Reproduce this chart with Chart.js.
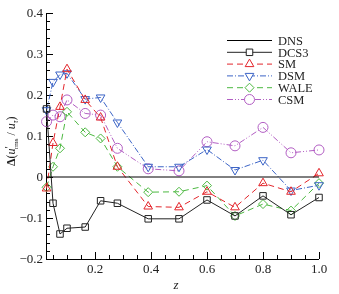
<!DOCTYPE html>
<html>
<head>
<meta charset="utf-8">
<script src="https://cdn.jsdelivr.net/npm/chart.js@4.4.1/dist/chart.umd.min.js"></script>
<style>
  html, body { margin: 0; padding: 0; background: #fff; }
  #wrap { width: 339px; height: 294px; }
</style>
</head>
<body>
<div id="wrap"><canvas id="lineChart"></canvas></div>
<script>
// z positions shared by all LES runs
const zValues = [0.027, 0.05, 0.075, 0.1, 0.165, 0.22, 0.28, 0.39, 0.5, 0.6, 0.7, 0.8, 0.9, 1.0];
const dnsZ = [0.025, 1.0];
const dnsValues = [0, 0];
const dcs3Values = [0.166, -0.064, -0.139, -0.125, -0.122, -0.058, -0.064, -0.102, -0.102, -0.056, -0.095, -0.046, -0.092, -0.05];
const smValues = [-0.028, 0.083, 0.171, 0.263, 0.188, 0.145, 0.025, -0.072, -0.074, -0.036, -0.074, -0.015, -0.036, 0.009];
const dsmValues = [0.163, 0.232, 0.25, 0.253, 0.19, 0.194, 0.133, 0.025, 0.025, 0.067, 0.017, 0.041, -0.033, -0.02];
const waleValues = [-0.025, 0.025, 0.07, 0.159, 0.109, 0.094, 0.025, -0.037, -0.036, -0.021, -0.095, -0.066, -0.082, -0.015];
const csmValues = [0.135, 0.151, 0.147, 0.188, 0.155, 0.151, 0.07, 0.02, 0.015, 0.086, 0.076, 0.121, 0.059, 0.066];

const xTickLabels = ['0.2', '0.4', '0.6', '0.8', '1.0'];
const yTickLabels = ['0.4', '0.3', '0.2', '0.1', '0', '\u22120.1', '\u22120.2'];

const serif = '"Liberation Serif", "DejaVu Serif", serif';

function toPoints(xs, ys) {
    return ys.map((y, i) => ({ x: xs[i], y: y }));
}

function series(label, xs, ys, color, dash, style, radius, rotation) {
    return {
        label: label,
        data: toPoints(xs, ys),
        borderColor: color,
        backgroundColor: 'rgba(0,0,0,0)',
        borderWidth: 1,
        borderDash: dash,
        pointStyle: style,
        pointRadius: radius,
        pointRotation: rotation || 0,
        pointBorderColor: color,
        pointBackgroundColor: 'rgba(0,0,0,0)',
        pointBorderWidth: 1,
        tension: 0,
        clip: false
    };
}

const datasets = [
    series('DNS', dnsZ, dnsValues, '#000000', [], false, 0),
    series('DCS3', zValues, dcs3Values, '#222222', [], 'rect', 4.6),
    series('SM', zValues, smValues, '#e3262c', [6, 4], 'triangle', 5),
    series('DSM', zValues, dsmValues, '#3c64c6', [6, 2, 1, 2], 'triangle', 5, 180),
    series('WALE', zValues, waleValues, '#4cb840', [6, 4], 'rectRot', 4.5),
    series('CSM', zValues, csmValues, '#b25ec3', [6, 2, 1, 2, 1, 2], 'circle', 5)
];

// axes, ticks, labels and titles drawn from the chart's scales
const framePlugin = {
    id: 'frame',
    beforeDatasetsDraw(chart) {
        const ctx = chart.ctx;
        const xs = chart.scales.x, ys = chart.scales.y;
        const a = chart.chartArea;
        ctx.save();
        ctx.strokeStyle = '#000';
        ctx.lineWidth = 1;
        ctx.beginPath();
        ctx.moveTo(a.left + 0.5, a.top);
        ctx.lineTo(a.left + 0.5, a.bottom + 0.5);
        ctx.lineTo(a.right, a.bottom + 0.5);
        ctx.stroke();

        // y ticks
        ctx.beginPath();
        for (let i = 0; i <= 30; i++) {
            const v = -0.2 + i * 0.02;
            const py = Math.round(ys.getPixelForValue(v)) + 0.5;
            const len = (i % 5 === 0) ? 7 : 4;
            ctx.moveTo(a.left, py);
            ctx.lineTo(a.left + len, py);
        }
        // x ticks
        for (let i = 1; i <= 20; i++) {
            const v = i * 0.05;
            const px = Math.round(xs.getPixelForValue(v)) + 0.5;
            const len = (i % 4 === 0) ? 7 : 4;
            ctx.moveTo(px, a.bottom);
            ctx.lineTo(px, a.bottom - len);
        }
        ctx.stroke();

        ctx.fillStyle = '#222';
        ctx.font = '13px ' + serif;
        ctx.textAlign = 'right';
        ctx.textBaseline = 'middle';
        yTickLabels.forEach((t, i) => {
            const v = 0.4 - i * 0.1;
            ctx.fillText(t, a.left - 3, ys.getPixelForValue(v) + 1);
        });
        ctx.textAlign = 'center';
        ctx.textBaseline = 'top';
        xTickLabels.forEach((t, i) => {
            const v = 0.2 * (i + 1);
            ctx.fillText(t, xs.getPixelForValue(v), a.bottom + 4);
        });

        // x title
        ctx.font = 'italic 13px ' + serif;
        ctx.textBaseline = 'alphabetic';
        ctx.fillText('z', 176, 289);

        // y title, rotated
        ctx.translate(15, 166);
        ctx.rotate(-Math.PI / 2);
        ctx.textAlign = 'left';
        let x = 0;
        const put = (txt, font, dy) => {
            ctx.font = font;
            ctx.fillText(txt, x, dy || 0);
            x += ctx.measureText(txt).width;
        };
        put('\u0394', 'bold 12px ' + serif);
        put('(', '12px ' + serif);
        put('u', 'italic 12px ' + serif);
        put('\u2032', '11px ' + serif, -3);
        x -= 3;
        put('rms', '7px ' + serif, 3);
        put(' / ', '12px ' + serif);
        put('u', 'italic 12px ' + serif);
        put('\u03c4', 'italic 8px ' + serif, 3);
        put(')', '12px ' + serif);
        ctx.restore();
    },
    afterDraw(chart) {
        const ctx = chart.ctx;
        ctx.save();
        chart.data.datasets.forEach((ds, i) => {
            const y = 40.5 + i * 11.8;
            ctx.strokeStyle = ds.borderColor;
            ctx.lineWidth = 1;
            ctx.setLineDash(ds.borderDash);
            ctx.beginPath();
            ctx.moveTo(227, y);
            ctx.lineTo(272, y);
            ctx.stroke();
            ctx.setLineDash([]);
            if (ds.pointStyle) {
                ctx.fillStyle = '#ffffff';
                Chart.helpers.drawPoint(ctx, {
                    pointStyle: ds.pointStyle,
                    radius: ds.pointRadius,
                    rotation: ds.pointRotation,
                    borderWidth: 1
                }, 249.5, y);
            }
            ctx.fillStyle = '#222';
            ctx.font = '12.5px ' + serif;
            ctx.textAlign = 'left';
            ctx.textBaseline = 'middle';
            ctx.fillText(ds.label, 278, y + 1);
        });
        ctx.restore();
    }
};

const ctx = document.getElementById('lineChart');

new Chart(ctx, {
    type: 'line',
    data: { datasets: datasets },
    options: {
        responsive: true,
        maintainAspectRatio: false,
        animation: false,
        layout: { padding: { left: 46, right: 20, top: 13, bottom: 35 } },
        plugins: { legend: { display: false }, tooltip: { enabled: false } },
        scales: {
            x: { type: 'linear', min: 0.025, max: 1.0, display: false },
            y: { type: 'linear', min: -0.2, max: 0.4, display: false }
        }
    },
    plugins: [framePlugin]
});
</script>
</body>
</html>
